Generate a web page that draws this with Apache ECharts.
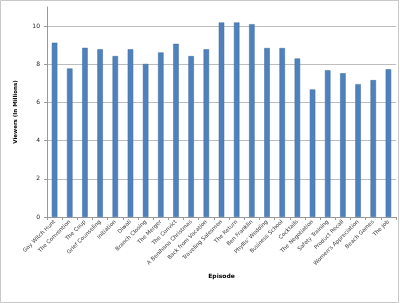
<!DOCTYPE html>
<html><head><meta charset="utf-8">
<script src="https://cdn.jsdelivr.net/npm/echarts@6/dist/echarts.min.js"></script>
<style>html,body{margin:0;padding:0;background:#fff}#c{width:400px;height:303px}</style>
</head><body><div id="c"></div>
<script>
const episodes = ["Gay Witch Hunt","The Convention","The Coup","Grief Counseling","Initiation","Diwali","Branch Closing","The Merger","The Convict","A Benihana Christmas","Back from Vacation","Traveling Salesmen","The Return","Ben Franklin","Phyllis' Wedding","Business School","Cocktails","The Negotiation","Safety Training","Product Recall","Women's Appreciation","Beach Games","The Job"];
const viewers = [9.13,7.78,8.86,8.79,8.43,8.79,8.02,8.62,9.07,8.43,8.79,10.19,10.19,10.1,8.85,8.85,8.3,6.68,7.69,7.53,6.96,7.17,7.74];
const yTitle = "Viewers (In Millions)";
const xTitle = "Episode";

const chart = echarts.init(document.getElementById('c'), null, {renderer:'canvas'});
chart.setOption({
  animation:false,
  backgroundColor:'#fff',
  graphic:[{type:'rect',shape:{x:0.5,y:0.5,width:398,height:302},style:{fill:'none',stroke:'#c8c8c8',lineWidth:1},silent:true}],
  grid:{left:47,right:4,top:7,bottom:86,containLabel:false},
  xAxis:{type:'category',data:episodes,
    name:xTitle,nameLocation:'middle',nameGap:56,
    nameTextStyle:{fontFamily:'DejaVu Sans',fontSize:6,fontWeight:'bold',color:'#000'},
    axisLine:{lineStyle:{color:'#999'}},
    axisTick:{show:true,length:3,lineStyle:{color:'#999'}},
    axisLabel:{rotate:45,interval:0,fontFamily:'DejaVu Sans',fontSize:5.5,color:'#3a3a3a',margin:4}},
  yAxis:{type:'value',min:0,max:11,interval:2,
    name:yTitle,nameLocation:'middle',nameGap:28,nameRotate:90,
    nameTextStyle:{fontFamily:'DejaVu Sans',fontSize:5.5,fontWeight:'bold',color:'#000'},
    axisLine:{show:true,lineStyle:{color:'#999'}},
    axisTick:{show:true,length:3,lineStyle:{color:'#999'}},
    axisLabel:{showMaxLabel:false,fontFamily:'DejaVu Sans',fontSize:6,color:'#222',margin:7},
    splitLine:{show:true,showMaxLine:false,lineStyle:{color:'#bdbdbd',width:1}}},
  series:[{type:'bar',data:viewers,barWidth:5.5,
    itemStyle:{color:'#4f81bd',borderColor:'#3a6a9f',borderWidth:0.5}}]
});
</script></body></html>
